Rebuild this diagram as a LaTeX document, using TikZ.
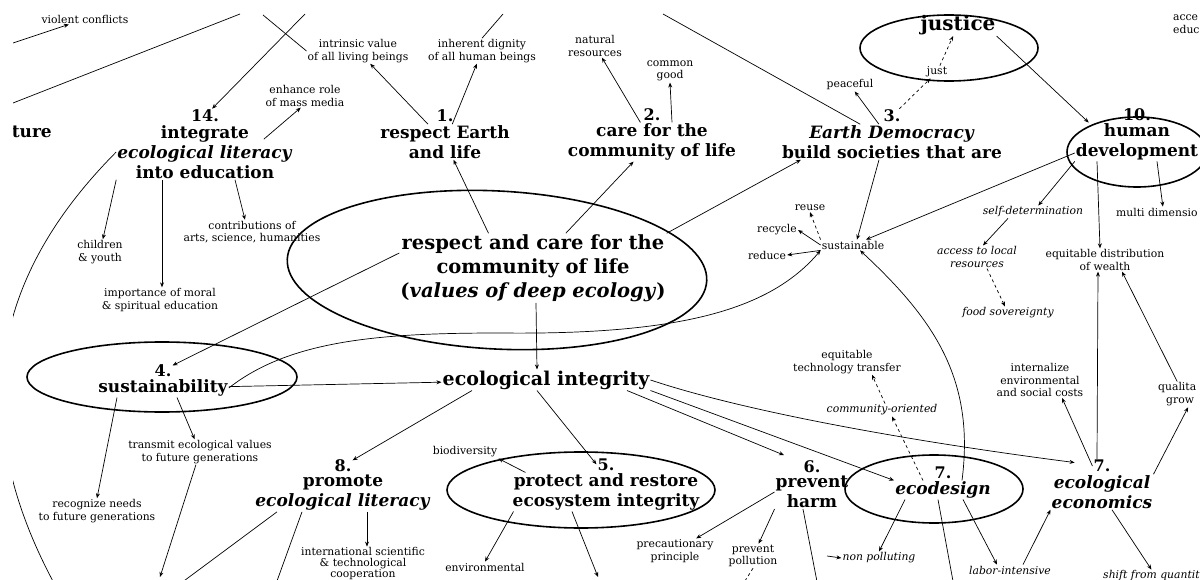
\documentclass[tikz,border=0pt]{standalone}
\usepackage{fontspec}
\setmainfont{DejaVu Serif}
\usetikzlibrary{arrows.meta}

\begin{document}
\begin{tikzpicture}[x=1pt,y=-1pt,label distance=1pt,
  concept/.style={font=\fontsize{17}{20}\selectfont\bfseries, align=center, inner sep=1pt},
  bigconcept/.style={font=\fontsize{19.5}{24}\selectfont\bfseries, align=center, inner sep=1pt},
  numlabel/.style={font=\fontsize{16}{20}\selectfont\bfseries, inner sep=1pt},
  note/.style={font=\fontsize{10.8}{12.5}\selectfont, align=center, inner sep=1pt},
  itnote/.style={note, font=\fontsize{10.8}{12.5}\selectfont\itshape},
  link/.style={-{Stealth[length=5pt,width=4pt]}, line width=0.7pt},
  plainlink/.style={line width=0.7pt},
  dashlink/.style={link, dashed},
  ring/.style={line width=1.6pt}]

% ---------- Frame of the scan ----------
\useasboundingbox (0,0) rectangle (1200,580);
\clip (13,14) rectangle (1200,580);

% ---------- Core values ----------
\node[bigconcept] (values) at (533,268) {respect and care for the\\community of life\\(\textit{values of deep ecology})};
\node[concept, font=\fontsize{19}{20}\selectfont\bfseries] (integ) at (546,380) {ecological integrity};

% ---------- Numbered principles ----------
\node[concept, label={[numlabel, name=n1num]above:1.}] (n1) at (445,142) {respect Earth\\and life};
\node[concept, label={[numlabel, name=n2num]above:2.}] (n2) at (652,142) {care for the\\community of life};
\node[concept, label={[numlabel, name=n3num]above:3.}] (n3) at (892,142) {\textit{Earth Democracy}\\build societies that are};
\node[concept, label={[numlabel, name=n10num]above:10.}] (n10) at (1137,142) {human\\development};
\node[concept, label={[numlabel, name=n14num]above:14.}] (n14) at (205,152) {integrate\\\textit{ecological literacy}\\into education};
\node[concept, label={[numlabel, name=n4num]above:4.}] (n4) at (163,388) {sustainability};
\node[concept, label={[numlabel, name=n8num]above:8.}] (n8) at (343,493) {promote\\\textit{ecological literacy}};
\node[concept, label={[numlabel, name=n5num]above:5.}] (n5) at (606,492) {protect and restore\\ecosystem integrity};
\node[concept, label={[numlabel, name=n6num]above:6.}] (n6) at (812,492) {prevent\\harm};
\node[concept, label={[numlabel, name=n7dnum]above:7.}] (n7d) at (943,490) {\textit{ecodesign}};
\node[concept, label={[numlabel, name=n7enum]above:7.}] (n7e) at (1102,492) {\textit{ecological}\\\textit{economics}};
\node[concept, font=\fontsize{20}{20}\selectfont\bfseries] (justice) at (958,25) {justice};
\node[concept, anchor=east] (ture) at (53,132) {ture};

% ---------- Notes ----------
\node[note] (viol) at (85,19) {violent conflicts};
\node[note] (enh) at (305,96) {enhance role\\of mass media};
\node[note] (intr) at (358,51) {intrinsic value\\of all living beings};
\node[note] (dign) at (482,51) {inherent dignity\\of all human beings};
\node[note] (nat) at (595,46) {natural\\resources};
\node[note] (good) at (670,71) {common\\good};
\node[note] (peace) at (850,85) {peaceful};
\node[note] (just) at (937,72) {just};
\node[note, anchor=west, align=left] (acce) at (1172,24) {acce\\educ};
\node[note] (child) at (100,252) {children\\\& youth};
\node[note] (contrib) at (252,232) {contributions of\\arts, science, humanities};
\node[note] (moral) at (160,300) {importance of moral\\\& spiritual education};
\node[note] (reuse) at (810,208) {reuse};
\node[note] (recycle) at (777,230) {recycle};
\node[note] (reduce) at (767,255) {reduce};
\node[note] (sust) at (853,245) {sustainable};
\node[itnote] (selfdet) at (1033,212) {self-determination};
\node[note, anchor=west] (multi) at (1115,212) {multi dimensio};
\node[itnote] (access) at (977,257) {access to local\\resources};
\node[itnote] (food) at (1008,313) {food sovereignty};
\node[note] (wealth) at (1105,260) {equitable distribution\\of wealth};
\node[note] (techtr) at (847,362) {equitable\\technology transfer};
\node[itnote] (commun) at (882,410) {community-oriented};
\node[note] (intern) at (1040,380) {internalize\\environmental\\and social costs};
\node[note, anchor=west] (qual1) at (1157,388) {qualita};
\node[note, anchor=west] (qual2) at (1165,402) {grow};
\node[note] (transm) at (200,452) {transmit ecological values\\to future generations};
\node[note] (recog) at (97,511) {recognize needs\\to future generations};
\node[note] (biod) at (465,452) {biodiversity};
\node[note, font=\fontsize{10.8}{11}\selectfont] (intl) at (363,564) {international scientific\\\& technological\\cooperation};
\node[note] (envir) at (485,567) {environmental};
\node[note] (precau) at (675,551) {precautionary\\principle};
\node[note] (prevpol) at (753,556) {prevent\\pollution};
\node[itnote] (nonpol) at (879,558) {non polluting};
\node[itnote] (labor) at (1010,570) {labor-intensive};
\node[itnote, anchor=west] (shift) at (1102,576) {shift from quantit};

% ---------- Loose ends outside the scan ----------
\coordinate (vA) at (13,43);
\coordinate (lA) at (13,103);
\coordinate (lB) at (240,14);
\coordinate (t14) at (305,14);
\coordinate (tIntr) at (263,15);
\coordinate (tDign) at (503,14);
\coordinate (t3) at (663,14);
\coordinate (bCurve) at (55,585);
\coordinate (bT) at (160,577);
\coordinate (b8a) at (169,592);
\coordinate (b8b) at (273,592);
\coordinate (b5) at (598,577);
\coordinate (b6) at (819,592);
\coordinate (bPol) at (738,592);
\coordinate (b7) at (955,592);
\coordinate (nonA) at (827,556);

% ---------- Top left ----------
\draw[link] (vA) -- (viol);
\draw[plainlink] (lA) -- (lB);

% ---------- 14. ecological literacy into education ----------
\draw[link] (t14) -- (n14num);
\draw[plainlink] (tIntr) -- (intr.west);
\draw[plainlink] (tDign) -- (dign.north);
\draw[link] ([xshift=-30pt,yshift=-15pt]n14.north east) -- (enh.250);
\draw[link] (n14.south west) -- (child);
\draw[link] ([xshift=-43pt]n14.south) -- ([xshift=2pt]moral.north);
\draw[link] ([xshift=30pt]n14.south) -- ([xshift=-7pt]contrib.north);
\draw[plainlink] (n14.west) .. controls (7,262) and (-45,400) .. (bCurve);

% ---------- 1., 2., 3. ----------
\draw[link] (n1) -- (intr);
\draw[link] (n1) -- (dign);
\draw[link] (values.142) -- (n1);
\draw[link] (values) -- (n2);
\draw[link] (values.north east) -- ([xshift=20pt]n3.south west);
\draw[link] (n2) -- (nat);
\draw[link] ([xshift=20pt]n2.north) -- (good.south);
\draw[plainlink] (t3) -- (n3);
\draw[link] (n3) -- (peace);
\draw[dashlink] (n3num) -- (just);
\draw[dashlink] (just) -- (justice);
\draw[link] (justice.south east) -- ([xshift=14pt]n10.north west);
\draw[link] ([xshift=-13pt]n3.south) -- ([xshift=4pt]sust.north);

% ---------- 10. human development ----------
\draw[link] (n10.190) -- (sust);
\draw[link] (n10.south west) -- (selfdet);
\draw[link] ([xshift=-40pt]n10.south) -- ([xshift=-5pt]wealth.north);
\draw[link] ([xshift=20pt]n10.south) -- ([xshift=6pt]multi.north);
\draw[link] ([xshift=-25pt]selfdet.south) -- ([xshift=6pt]access.north);
\draw[dashlink] ([xshift=10pt]access.south) -- ([xshift=-3pt]food.north);

% ---------- sustainable ----------
\draw[dashlink] (sust.north west) -- (reuse.south);
\draw[link] (sust.west) -- (recycle.east);
\draw[link] (sust.south west) -- (reduce.east);

% ---------- 4. sustainability ----------
\draw[link] ([yshift=15pt]values.west) -- (n4num);
\draw[link] ([xshift=3pt]values.south) -- ([xshift=-9pt]integ.north);
\draw[link] (n4) -- (integ);
\draw[link] (n4.east) .. controls (290,340) and (380,333) .. (500,333)
  .. controls (680,335) and (770,310) .. (sust.south west);
\draw[link] ([xshift=-46pt]n4.south) -- (recog.north);
\draw[link] ([xshift=14pt]n4.south) -- (transm);
\draw[link] (transm) -- (bT);

% ---------- ecological integrity ----------
\draw[link] ([xshift=-74pt]integ.south) -- (n8num);
\draw[link] ([xshift=-9pt]integ.south) -- (n5num.west);
\draw[link, shorten >=20pt] ([xshift=81pt]integ.south) -- (n6num);
\draw[link] (integ.south east) -- (n7d.north west);
\draw[link, shorten >=18pt] (integ.east) .. controls (740,410) and (900,440) .. (n7enum);

% ---------- 8., 5., 6. ----------
\draw[link] ([xshift=24pt]n8.south) -- ([xshift=4pt]intl.north);
\draw[link] ([xshift=-66pt]n8.south) -- (b8a);
\draw[link] ([xshift=-41pt]n8.south) -- (b8b);
\draw[link] ([xshift=14pt]n5.north west) -- (biod.south east);
\draw[link] ([xshift=2pt]n5.south west) -- (envir.north);
\draw[link] ([xshift=-34pt]n5.south) -- (b5);
\draw[link] (n6.west) -- (precau);
\draw[link] (n6.south west) -- (prevpol);
\draw[dashlink] (prevpol.south) -- (bPol);
\draw[link] ([xshift=-9pt]n6.south) -- (b6);

% ---------- 7. ecodesign ----------
\draw[dashlink] ([xshift=-20pt]n7d.north) -- ([xshift=10pt]commun.south);
\draw[dashlink] ([xshift=3pt]commun.north) -- ([xshift=25pt]techtr.south);
\draw[link] ([xshift=19pt]n7d.north) .. controls (975,380) and (935,320) .. ([xshift=7pt]sust.south);
\draw[link] ([xshift=-38pt]n7d.south) -- (nonpol.north);
\draw[link] (nonA) -- (nonpol.west);
\draw[link] ([xshift=-5pt]n7d.south) -- (b7);
\draw[link] ([xshift=20pt]n7d.south) -- ([xshift=-13pt]labor.north);
\draw[link] ([xshift=13pt]labor.north) -- (n7e.south west);

% ---------- 7. ecological economics ----------
\draw[link] ([xshift=-5pt]n7enum.north) -- ([xshift=-7pt]wealth.south);
\draw[link] (n7enum.west) -- ([xshift=22pt]intern.south);
\draw[link] (qual1.north) -- ([xshift=17pt]wealth.south);
\draw[link] (n7e.north east) -- ([xshift=8pt]qual2.south);
\draw[link] ([xshift=10pt]n7e.south) -- (shift.north);

% ---------- Highlight rings ----------
\draw[ring] (949,48) ellipse [x radius=89pt, y radius=33pt];
\draw[ring] (1137,152) ellipse [x radius=70pt, y radius=35pt];
\draw[ring, rotate around={-3:(497,270)}] (497,270) ellipse [x radius=210pt, y radius=79pt];
\draw[ring] (162,377) ellipse [x radius=135pt, y radius=35pt];
\draw[ring] (581,490) ellipse [x radius=134pt, y radius=38pt];
\draw[ring] (934,489) ellipse [x radius=89pt, y radius=34pt];

\end{tikzpicture}
\end{document}
